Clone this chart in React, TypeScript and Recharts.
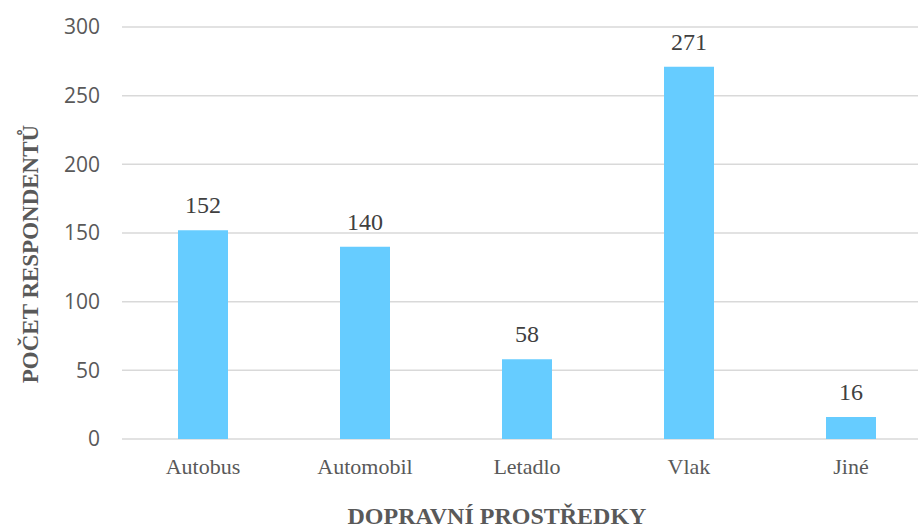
import { BarChart, Bar, XAxis, YAxis, CartesianGrid, LabelList, Label } from 'recharts'

const categories = ['Autobus', 'Automobil', 'Letadlo', 'Vlak', 'Jiné']
const respondents = [152, 140, 58, 271, 16]
const yTicks = [0, 50, 100, 150, 200, 250, 300]

const data = categories.map((name, i) => ({ name, value: respondents[i] }))

const serif = '"Liberation Serif", "Times New Roman", serif'
const sans = '"Open Sans", "Liberation Sans", sans-serif'

const renderXTitle = () => (
  <text x={497} y={524} textAnchor="middle" fontFamily={serif} fontWeight="bold" fontSize={24} fill="#595959">
    DOPRAVNÍ PROSTŘEDKY
  </text>
)

const renderYTitle = () => (
  <text
    x={38}
    y={254}
    textAnchor="middle"
    transform="rotate(-90, 38, 254)"
    fontFamily={serif}
    fontWeight="bold"
    fontSize={23}
    fill="#595959"
  >
    POČET RESPONDENTŮ
  </text>
)

export default function App() {
  return (
    <div style={{ position: 'absolute', left: 0, top: 0, width: 918, height: 529, overflow: 'hidden', background: '#fff' }}>
      <BarChart width={960} height={529} data={data} margin={{ top: 27, right: 28, bottom: 0, left: 0 }}>
        <CartesianGrid vertical={false} stroke="#d9d9d9" strokeWidth={1.5} />
        <XAxis
          dataKey="name"
          height={90}
          axisLine={false}
          tickLine={false}
          tickSize={0}
          tickMargin={19}
          interval={0}
          tick={{ fontFamily: serif, fontSize: 22, fill: '#595959' }}
        >
          <Label content={renderXTitle} />
        </XAxis>
        <YAxis
          width={122}
          domain={[0, 300]}
          ticks={yTicks}
          axisLine={false}
          tickLine={false}
          tickSize={0}
          tickMargin={22}
          tick={{ fontFamily: sans, fontSize: 21, fill: '#595959' }}
        >
          <Label content={renderYTitle} />
        </YAxis>
        <Bar dataKey="value" fill="#66ccff" barSize={50} isAnimationActive={false}>
          <LabelList dataKey="value" position="top" offset={17} fontFamily={serif} fontSize={24} fill="#404040" />
        </Bar>
      </BarChart>
    </div>
  )
}
